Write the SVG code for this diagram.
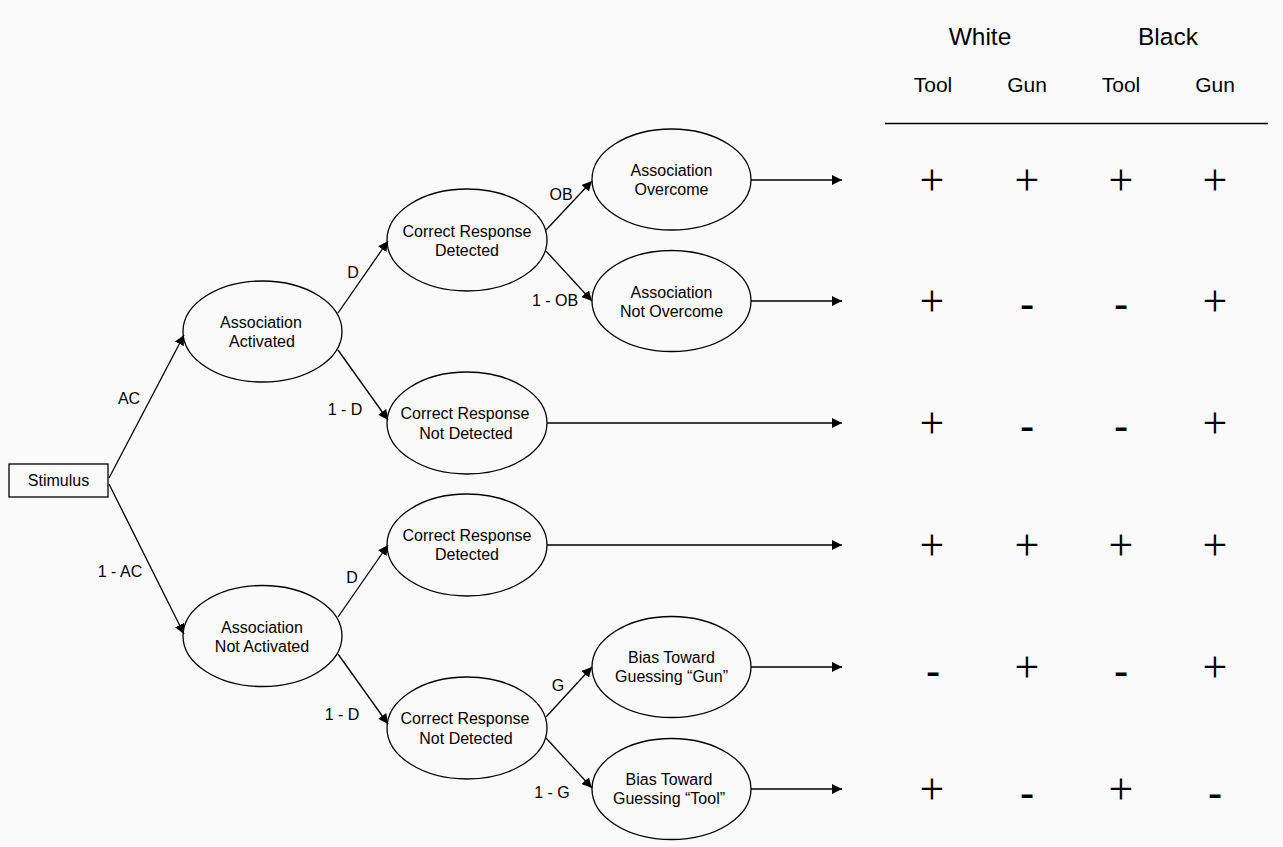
<svg xmlns="http://www.w3.org/2000/svg" width="1283" height="847" viewBox="0 0 1283 847">
<defs>
<marker id="ah" viewBox="0 0 10 10" refX="10" refY="5" markerWidth="10" markerHeight="10" markerUnits="userSpaceOnUse" orient="auto"><path d="M0,0 L10,5 L0,10 z" fill="#000"/></marker>
<style>
.n{fill:none;stroke:#000;stroke-width:1.3}
.t{font-family:"Liberation Sans",Arial,sans-serif;font-size:16px;fill:#000;text-anchor:middle}
.e{fill:none;stroke:#000;stroke-width:1.3;marker-end:url(#ah)}
.h1{font-family:"Liberation Sans",Arial,sans-serif;font-size:24.5px;fill:#000;text-anchor:middle}
.h2{font-family:"Liberation Sans",Arial,sans-serif;font-size:21px;fill:#000;text-anchor:middle}
.p{font-family:"Liberation Serif","Times New Roman",serif;font-size:44px;fill:#000;text-anchor:middle}
.m{font-family:"Liberation Sans",Arial,sans-serif;font-size:44px;fill:#000;text-anchor:middle}
</style>
</defs>
<rect width="1283" height="847" fill="#fafafa"/>

<g id="connectors">
<line class="e" x1="109" y1="478" x2="184" y2="335"/>
<line class="e" x1="109" y1="484" x2="184" y2="634"/>
<line class="e" x1="338" y1="313" x2="388" y2="241"/>
<line class="e" x1="338" y1="350" x2="388" y2="420"/>
<line class="e" x1="546" y1="230" x2="592" y2="181"/>
<line class="e" x1="546" y1="251" x2="592" y2="301"/>
<line class="e" x1="338" y1="617" x2="388" y2="545"/>
<line class="e" x1="338" y1="654" x2="388" y2="724"/>
<line class="e" x1="546" y1="717" x2="592" y2="667"/>
<line class="e" x1="546" y1="738" x2="592" y2="788"/>
<line class="e" x1="751" y1="180" x2="842" y2="180"/>
<line class="e" x1="751" y1="301" x2="842" y2="301"/>
<line class="e" x1="547" y1="423" x2="842" y2="423"/>
<line class="e" x1="547" y1="545" x2="842" y2="545"/>
<line class="e" x1="751" y1="667" x2="842" y2="667"/>
<line class="e" x1="751" y1="789" x2="842" y2="789"/>
<text class="t" x="129" y="404">AC</text>
<text class="t" x="120" y="577">1 - AC</text>
<text class="t" x="353" y="278">D</text>
<text class="t" x="345" y="415">1 - D</text>
<text class="t" x="561" y="200">OB</text>
<text class="t" x="555" y="306">1 - OB</text>
<text class="t" x="352" y="583">D</text>
<text class="t" x="342" y="720">1 - D</text>
<text class="t" x="558" y="691">G</text>
<text class="t" x="552" y="798">1 - G</text>
</g>

<g id="stimulus"><rect class="n" x="9" y="464" width="99" height="33"/><text class="t" x="58.5" y="486">Stimulus</text></g>
<g id="assoc-activated"><ellipse class="n" cx="262.5" cy="331.5" rx="79.5" ry="50.5"/><text class="t" x="261" y="328">Association</text><text class="t" x="262" y="347">Activated</text></g>
<g id="crd-top"><ellipse class="n" cx="467" cy="240" rx="80" ry="51"/><text class="t" x="467" y="237">Correct Response</text><text class="t" x="467" y="256">Detected</text></g>
<g id="assoc-overcome"><ellipse class="n" cx="671.5" cy="179.5" rx="79.5" ry="50.5"/><text class="t" x="671.5" y="176">Association</text><text class="t" x="671.5" y="195">Overcome</text></g>
<g id="assoc-not-overcome"><ellipse class="n" cx="671.5" cy="301" rx="79.5" ry="50.5"/><text class="t" x="671.5" y="298">Association</text><text class="t" x="671.5" y="317">Not Overcome</text></g>
<g id="crnd-top"><ellipse class="n" cx="467" cy="423" rx="80" ry="51"/><text class="t" x="465" y="419">Correct Response</text><text class="t" x="466" y="439">Not Detected</text></g>
<g id="crd-bottom"><ellipse class="n" cx="467" cy="545" rx="80" ry="51"/><text class="t" x="467" y="541">Correct Response</text><text class="t" x="467" y="560">Detected</text></g>
<g id="assoc-not-activated"><ellipse class="n" cx="262.5" cy="636" rx="79.5" ry="50.5"/><text class="t" x="262" y="633">Association</text><text class="t" x="262" y="652">Not Activated</text></g>
<g id="crnd-bottom"><ellipse class="n" cx="467" cy="728" rx="80" ry="51"/><text class="t" x="465" y="724">Correct Response</text><text class="t" x="466" y="744">Not Detected</text></g>
<g id="bias-gun"><ellipse class="n" cx="671.5" cy="667" rx="79.5" ry="50.5"/><text class="t" x="671.5" y="663">Bias Toward</text><text class="t" x="671.5" y="682">Guessing “Gun”</text></g>
<g id="bias-tool"><ellipse class="n" cx="671.5" cy="789" rx="79.5" ry="50.5"/><text class="t" x="669" y="785">Bias Toward</text><text class="t" x="669" y="804">Guessing “Tool”</text></g>

<g id="table">
<text class="h1" x="980" y="45">White</text>
<text class="h1" x="1168" y="45">Black</text>
<text class="h2" x="933" y="92">Tool</text>
<text class="h2" x="1027" y="92">Gun</text>
<text class="h2" x="1121" y="92">Tool</text>
<text class="h2" x="1215" y="92">Gun</text>
<line x1="885" y1="123.5" x2="1268" y2="123.5" stroke="#000" stroke-width="1.3"/>

<text class="p" x="932" y="195">+</text><text class="p" x="1027" y="195">+</text><text class="p" x="1121" y="195">+</text><text class="p" x="1215" y="195">+</text>
<text class="p" x="932" y="316">+</text><text class="m" x="1027" y="319">-</text><text class="m" x="1121" y="319">-</text><text class="p" x="1215" y="316">+</text>
<text class="p" x="932" y="438">+</text><text class="m" x="1027" y="441">-</text><text class="m" x="1121" y="441">-</text><text class="p" x="1215" y="438">+</text>
<text class="p" x="932" y="560">+</text><text class="p" x="1027" y="560">+</text><text class="p" x="1121" y="560">+</text><text class="p" x="1215" y="560">+</text>
<text class="m" x="933" y="686">-</text><text class="p" x="1027" y="682">+</text><text class="m" x="1121" y="686">-</text><text class="p" x="1215" y="682">+</text>
<text class="p" x="932" y="804">+</text><text class="m" x="1027" y="808">-</text><text class="p" x="1121" y="804">+</text><text class="m" x="1215" y="808">-</text>
</g>
</svg>
